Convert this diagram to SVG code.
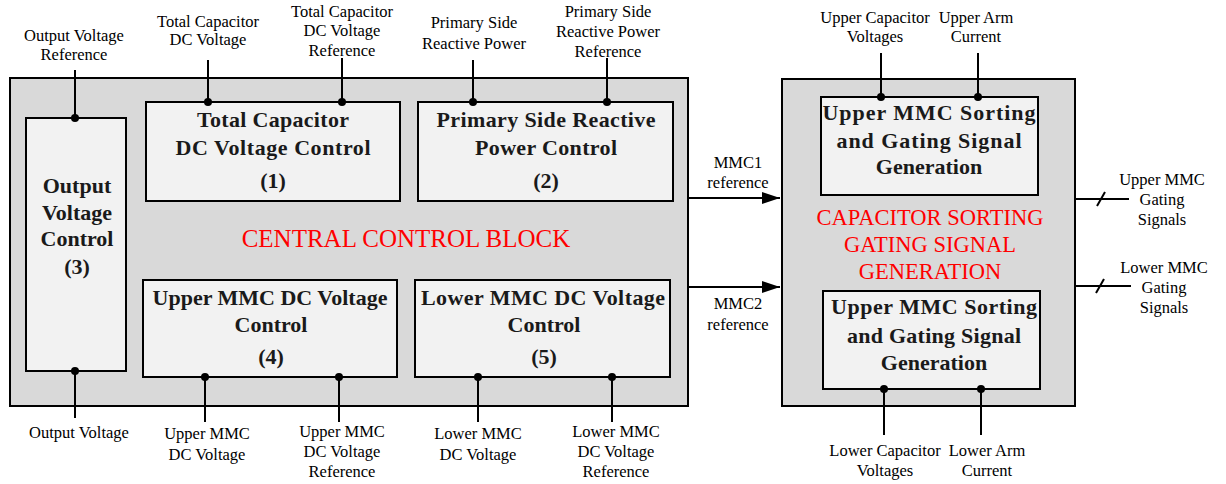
<svg xmlns="http://www.w3.org/2000/svg" width="1226" height="484" viewBox="0 0 1226 484">
<defs>
<style>
.outer{fill:#d9d9d9;stroke:#000;stroke-width:2}
.inner{fill:#f2f2f2;stroke:#000;stroke-width:2}
.ln{stroke:#000;stroke-width:2;fill:none}
.dot{fill:#000}
text{font-family:'Liberation Serif','Times New Roman',Times,'DejaVu Serif',serif}
.lbl{font-size:16.5px;fill:#000;text-anchor:middle}
.bt{font-size:22px;font-weight:bold;fill:#1a1a1a;text-anchor:middle}
.red{fill:#ff0000;text-anchor:middle}
</style>
<marker id="arr" markerWidth="18" markerHeight="12" refX="18" refY="6" orient="auto" markerUnits="userSpaceOnUse">
<path d="M0,0 L18,6 L0,12 Z" fill="#000"/>
</marker>
</defs>
<rect width="1226" height="484" fill="#fff"/>

<g id="central">
<rect class="outer" x="10" y="78" width="678" height="328"/>
<text class="red" x="406" y="247" font-size="25">CENTRAL CONTROL BLOCK</text>
</g>

<g id="sorting">
<rect class="outer" x="782" y="79" width="293" height="327"/>
<text class="red" x="930" y="225" font-size="22.5">CAPACITOR SORTING</text>
<text class="red" x="930" y="252" font-size="22.5">GATING SIGNAL</text>
<text class="red" x="930" y="279" font-size="22.5">GENERATION</text>
</g>

<g id="n3">
<rect class="inner" x="26" y="118" width="100" height="253"/>
<text class="bt" x="77" y="193">Output</text>
<text class="bt" x="77" y="220">Voltage</text>
<text class="bt" x="77" y="246">Control</text>
<text class="bt" x="77" y="274">(3)</text>
</g>

<g id="n1">
<rect class="inner" x="146" y="102" width="254" height="99"/>
<text class="bt" x="273" y="127" textLength="152" lengthAdjust="spacing">Total Capacitor</text>
<text class="bt" x="273" y="155" textLength="195" lengthAdjust="spacing">DC Voltage Control</text>
<text class="bt" x="273" y="188">(1)</text>
</g>

<g id="n2">
<rect class="inner" x="418" y="102" width="255" height="99"/>
<text class="bt" x="546" y="127" textLength="219" lengthAdjust="spacing">Primary Side Reactive</text>
<text class="bt" x="546" y="155" textLength="142" lengthAdjust="spacing">Power Control</text>
<text class="bt" x="546" y="188">(2)</text>
</g>

<g id="n4">
<rect class="inner" x="143" y="280" width="254" height="97"/>
<text class="bt" x="270" y="305">Upper MMC DC Voltage</text>
<text class="bt" x="271" y="332">Control</text>
<text class="bt" x="271" y="364">(4)</text>
</g>

<g id="n5">
<rect class="inner" x="415" y="280" width="255" height="97"/>
<text class="bt" x="543" y="305" textLength="244" lengthAdjust="spacing">Lower MMC DC Voltage</text>
<text class="bt" x="544" y="332">Control</text>
<text class="bt" x="544" y="364">(5)</text>
</g>

<g id="upperSort">
<rect class="inner" x="821" y="97" width="217" height="98"/>
<text class="bt" x="929" y="120" textLength="213" lengthAdjust="spacing">Upper MMC Sorting</text>
<text class="bt" x="929" y="148" textLength="185" lengthAdjust="spacing">and Gating Signal</text>
<text class="bt" x="929" y="174">Generation</text>
</g>

<g id="lowerSort">
<rect class="inner" x="823" y="291" width="217" height="98"/>
<text class="bt" x="934" y="314" textLength="206" lengthAdjust="spacing">Upper MMC Sorting</text>
<text class="bt" x="934" y="343" textLength="174" lengthAdjust="spacing">and Gating Signal</text>
<text class="bt" x="934" y="370">Generation</text>
</g>

<g id="connectors">
<line class="ln" x1="75" y1="70" x2="75" y2="118"/><circle class="dot" cx="75" cy="118" r="4"/>
<line class="ln" x1="208" y1="60" x2="208" y2="102"/><circle class="dot" cx="208" cy="102" r="4"/>
<line class="ln" x1="342" y1="58" x2="342" y2="102"/><circle class="dot" cx="342" cy="102" r="4"/>
<line class="ln" x1="473" y1="60" x2="473" y2="102"/><circle class="dot" cx="473" cy="102" r="4"/>
<line class="ln" x1="607" y1="58" x2="607" y2="102"/><circle class="dot" cx="607" cy="102" r="4"/>
<line class="ln" x1="881" y1="53" x2="881" y2="97"/><circle class="dot" cx="881" cy="97" r="4"/>
<line class="ln" x1="978" y1="53" x2="978" y2="97"/><circle class="dot" cx="978" cy="97" r="4"/>
<line class="ln" x1="75" y1="371" x2="75" y2="418"/><circle class="dot" cx="75" cy="371" r="4"/>
<line class="ln" x1="205" y1="377" x2="205" y2="422"/><circle class="dot" cx="205" cy="377" r="4"/>
<line class="ln" x1="339" y1="377" x2="339" y2="422"/><circle class="dot" cx="339" cy="377" r="4"/>
<line class="ln" x1="478" y1="377" x2="478" y2="422"/><circle class="dot" cx="478" cy="377" r="4"/>
<line class="ln" x1="612" y1="377" x2="612" y2="422"/><circle class="dot" cx="612" cy="377" r="4"/>
<line class="ln" x1="884" y1="389" x2="884" y2="435"/><circle class="dot" cx="884" cy="389" r="4"/>
<line class="ln" x1="981" y1="389" x2="981" y2="435"/><circle class="dot" cx="981" cy="389" r="4"/>
<line class="ln" x1="688" y1="198" x2="780" y2="198" marker-end="url(#arr)"/>
<line class="ln" x1="688" y1="287" x2="780" y2="287" marker-end="url(#arr)"/>
<line class="ln" x1="1075" y1="199" x2="1129" y2="199"/>
<line class="ln" x1="1097" y1="206" x2="1105" y2="192"/>
<line class="ln" x1="1075" y1="286" x2="1131" y2="286"/>
<line class="ln" x1="1096" y1="293" x2="1104" y2="279"/>
</g>

<g id="labels">
<text class="lbl" x="74" y="41">Output Voltage</text>
<text class="lbl" x="74" y="60">Reference</text>
<text class="lbl" x="208" y="27">Total Capacitor</text>
<text class="lbl" x="208" y="45">DC Voltage</text>
<text class="lbl" x="342" y="17">Total Capacitor</text>
<text class="lbl" x="342" y="36">DC Voltage</text>
<text class="lbl" x="342" y="56">Reference</text>
<text class="lbl" x="474" y="28">Primary Side</text>
<text class="lbl" x="474" y="49">Reactive Power</text>
<text class="lbl" x="608" y="17">Primary Side</text>
<text class="lbl" x="608" y="37">Reactive Power</text>
<text class="lbl" x="608" y="57">Reference</text>
<text class="lbl" x="875" y="23">Upper Capacitor</text>
<text class="lbl" x="875" y="42">Voltages</text>
<text class="lbl" x="976" y="23">Upper Arm</text>
<text class="lbl" x="976" y="42">Current</text>

<text class="lbl" x="79" y="438">Output Voltage</text>
<text class="lbl" x="207" y="439">Upper MMC</text>
<text class="lbl" x="207" y="460">DC Voltage</text>
<text class="lbl" x="342" y="437">Upper MMC</text>
<text class="lbl" x="342" y="457">DC Voltage</text>
<text class="lbl" x="342" y="477">Reference</text>
<text class="lbl" x="478" y="439">Lower MMC</text>
<text class="lbl" x="478" y="460">DC Voltage</text>
<text class="lbl" x="616" y="437">Lower MMC</text>
<text class="lbl" x="616" y="457">DC Voltage</text>
<text class="lbl" x="616" y="477">Reference</text>
<text class="lbl" x="885" y="456">Lower Capacitor</text>
<text class="lbl" x="885" y="476">Voltages</text>
<text class="lbl" x="987" y="456">Lower Arm</text>
<text class="lbl" x="987" y="476">Current</text>

<text class="lbl" x="738" y="168">MMC1</text>
<text class="lbl" x="738" y="188">reference</text>
<text class="lbl" x="738" y="309">MMC2</text>
<text class="lbl" x="738" y="330">reference</text>

<text class="lbl" x="1162" y="185">Upper MMC</text>
<text class="lbl" x="1162" y="205">Gating</text>
<text class="lbl" x="1162" y="225">Signals</text>
<text class="lbl" x="1164" y="273">Lower MMC</text>
<text class="lbl" x="1164" y="293">Gating</text>
<text class="lbl" x="1164" y="313">Signals</text>
</g>
</svg>
